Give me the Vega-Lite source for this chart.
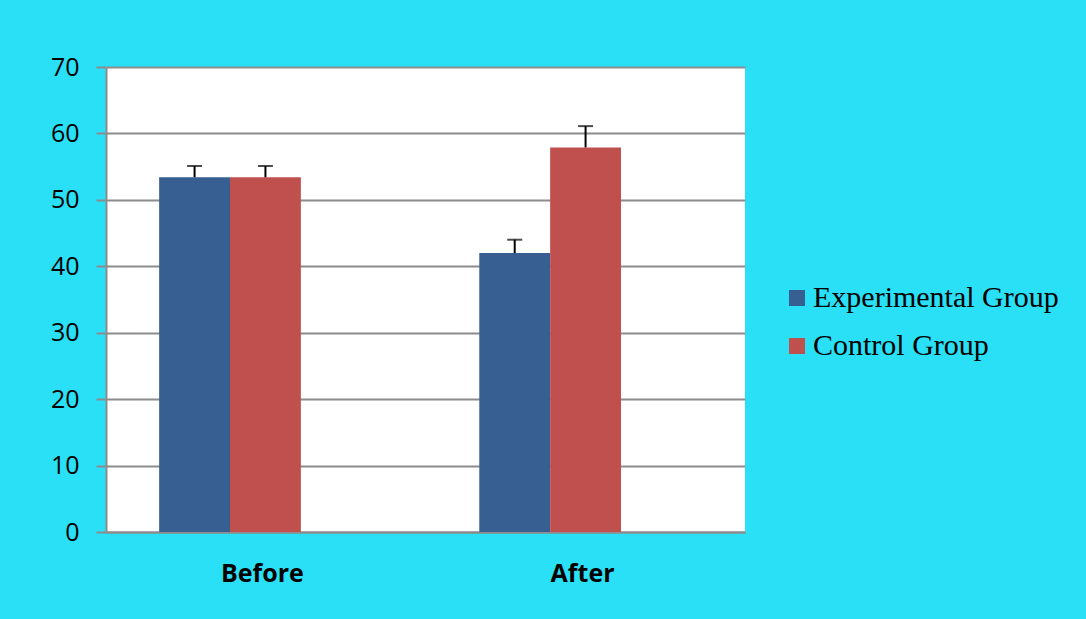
{
  "$schema": "https://vega.github.io/schema/vega-lite/v6.json",
  "width": 639,
  "height": 465,
  "autosize": {"type": "none"},
  "padding": {"left": 106, "top": 67, "right": 341, "bottom": 87},
  "background": "#29E0F7",
  "config": {
    "view": {"stroke": null, "fill": "white"},
    "axis": {"labelFont": "Open Sans", "labelColor": "black", "titleFont": "Open Sans"}
  },
  "data": {
    "values": [
      {"phase": "Before", "group": "Experimental Group", "mean": 53.4, "upper": 55.1},
      {"phase": "Before", "group": "Control Group", "mean": 53.4, "upper": 55.1},
      {"phase": "After", "group": "Experimental Group", "mean": 42.0, "upper": 44.0},
      {"phase": "After", "group": "Control Group", "mean": 57.9, "upper": 61.1}
    ]
  },
  "encoding": {
    "x": {
      "field": "phase",
      "type": "nominal",
      "sort": ["Before", "After"],
      "scale": {"paddingInner": 0.336, "paddingOuter": 0.166},
      "axis": {
        "title": null,
        "labelAngle": 0,
        "labelFontSize": 25,
        "labelFontWeight": "bold",
        "labelPadding": 29,
        "labelOffset": -3,
        "ticks": false,
        "grid": false,
        "domainColor": "#8c8c8c",
        "domainWidth": 2
      }
    },
    "xOffset": {
      "field": "group",
      "type": "nominal",
      "scale": {"domain": ["Experimental Group", "Control Group", "Hidden"], "paddingInner": 0, "paddingOuter": 0}
    }
  },
  "layer": [
    {
      "mark": {"type": "bar"},
      "encoding": {
        "y": {
          "field": "mean",
          "type": "quantitative",
          "scale": {"domain": [0, 70], "nice": false},
          "axis": {
            "title": null,
            "values": [0, 10, 20, 30, 40, 50, 60, 70],
            "labelFontSize": 25,
            "labelPadding": 17,
            "tickSize": 10,
            "tickWidth": 2,
            "tickColor": "#8c8c8c",
            "domainColor": "#8c8c8c",
            "domainWidth": 2,
            "gridColor": "#8c8c8c",
            "gridWidth": 2
          }
        },
        "color": {
          "field": "group",
          "type": "nominal",
          "scale": {"domain": ["Experimental Group", "Control Group"], "range": ["#375F92", "#C0504D"]},
          "legend": {
            "title": null,
            "orient": "none",
            "legendX": 676,
            "legendY": 216,
            "symbolType": "square",
            "symbolSize": 256,
            "symbolStrokeWidth": 0,
            "symbolOpacity": 1,
            "labelFont": "Liberation Serif",
            "labelFontSize": 30,
            "labelColor": "black",
            "labelOffset": 1,
            "rowPadding": 18,
            "padding": 0,
            "labelLimit": 400
          }
        }
      }
    },
    {
      "mark": {"type": "rule", "color": "black", "strokeWidth": 2},
      "encoding": {
        "y": {"field": "mean", "type": "quantitative"},
        "y2": {"field": "upper"}
      }
    },
    {
      "mark": {"type": "tick", "color": "black", "thickness": 2, "size": 15, "orient": "horizontal"},
      "encoding": {
        "y": {"field": "upper", "type": "quantitative"}
      }
    }
  ]
}
